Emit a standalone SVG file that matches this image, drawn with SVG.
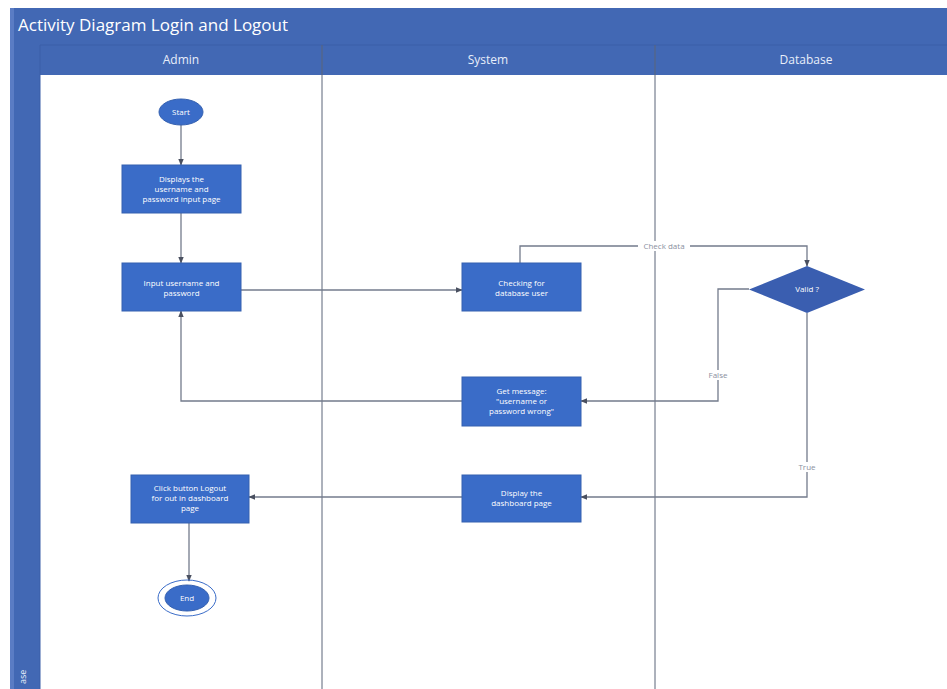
<svg xmlns="http://www.w3.org/2000/svg" width="947" height="689" viewBox="0 0 947 689">
  <style>
    .frame { fill: #4268b4; }
    .lane { fill: #ffffff; }
    .divider { stroke: #5a6478; stroke-width: 1; fill: none; }
    .title { font-family: "Open Sans", "Liberation Sans", sans-serif; font-size: 17px; fill: #ffffff; }
    .head { font-family: "Open Sans", "Liberation Sans", sans-serif; font-size: 12px; fill: #e8eefa; text-anchor: middle; }
    .box { fill: #3a6cc8; stroke: #3460b0; stroke-width: 1; }
    .dia { fill: #3a5eb0; }
    .txt { font-family: "Open Sans", "Liberation Sans", sans-serif; font-size: 8px; fill: #ffffff; text-anchor: middle; }
    .edge { stroke: #737b8c; stroke-width: 1.3; fill: none; }
    .lbl { font-family: "Open Sans", "Liberation Sans", sans-serif; font-size: 8px; fill: #8a90a0; text-anchor: middle; }
    .lblbg { fill: #ffffff; }
  </style>
  <defs>
    <marker id="arrow" viewBox="0 0 10 10" refX="9" refY="5" markerWidth="7" markerHeight="7" orient="auto-start-reverse" markerUnits="userSpaceOnUse">
      <path d="M0,1 L10,5 L0,9 z" fill="#4a5060"/>
    </marker>
  </defs>

  <rect width="947" height="689" fill="#ffffff"/>

  <!-- pool frame, title bar and lane headers -->
  <g id="pool">
    <rect class="frame" x="10" y="8" width="937" height="681"/>
    <rect x="10" y="8" width="4" height="681" fill="#5a7cc4"/>
    <rect class="lane" x="40" y="75" width="907" height="614"/>
    <line x1="40" y1="45" x2="947" y2="45" stroke="#3a5ea8" stroke-width="1"/>
    <line x1="40" y1="45" x2="40" y2="689" stroke="#3a5ea8" stroke-width="1"/>
    <text class="title" x="18" y="31">Activity Diagram Login and Logout</text>
    <text class="head" x="181" y="64">Admin</text>
    <text class="head" x="488" y="64">System</text>
    <text class="head" x="806" y="64">Database</text>
    <line class="divider" x1="322" y1="45" x2="322" y2="689"/>
    <line class="divider" x1="655" y1="45" x2="655" y2="689"/>
    <text x="26" y="684" transform="rotate(-90 26 684)" font-family="Open Sans, Liberation Sans, sans-serif" font-size="9" fill="#e8eefa">ase</text>
  </g>

  <!-- connectors -->
  <g id="connectors">
    <path class="edge" d="M181,125 L181,165" marker-end="url(#arrow)"/>
    <path class="edge" d="M181,213 L181,263" marker-end="url(#arrow)"/>
    <path class="edge" d="M241,290 L462,290" marker-end="url(#arrow)"/>
    <path class="edge" d="M520,263 L520,246 L807,246 L807,266" marker-end="url(#arrow)"/>
    <path class="edge" d="M749,289 L718,289 L718,401 L581,401" marker-end="url(#arrow)"/>
    <path class="edge" d="M462,401 L181,401 L181,311" marker-end="url(#arrow)"/>
    <path class="edge" d="M807,313 L807,497 L581,497" marker-end="url(#arrow)"/>
    <path class="edge" d="M462,497 L249,497" marker-end="url(#arrow)"/>
    <path class="edge" d="M189,523 L189,581" marker-end="url(#arrow)"/>
    <rect class="lblbg" x="638" y="241" width="52" height="10"/>
    <text class="lbl" x="664" y="249">Check data</text>
    <rect class="lblbg" x="704" y="370" width="28" height="10"/>
    <text class="lbl" x="718" y="378">False</text>
    <rect class="lblbg" x="795" y="462" width="24" height="10"/>
    <text class="lbl" x="807" y="470">True</text>
  </g>

  <g id="start">
    <ellipse class="box" cx="181" cy="112" rx="22" ry="13"/>
    <text class="txt" x="181" y="115">Start</text>
  </g>

  <g id="show-login-page">
    <rect class="box" x="122" y="165" width="119" height="48"/>
    <text class="txt" x="181.5" y="182">Displays the</text>
    <text class="txt" x="181.5" y="192">username and</text>
    <text class="txt" x="181.5" y="202">password input page</text>
  </g>

  <g id="input-credentials">
    <rect class="box" x="122" y="263" width="119" height="48"/>
    <text class="txt" x="181.5" y="286">Input username and</text>
    <text class="txt" x="181.5" y="296">password</text>
  </g>

  <g id="check-user">
    <rect class="box" x="462" y="263" width="119" height="48"/>
    <text class="txt" x="521.5" y="286">Checking for</text>
    <text class="txt" x="521.5" y="296">database user</text>
  </g>

  <g id="valid">
    <polygon class="dia" points="807,266 865,289.5 807,313 749,289.5"/>
    <text class="txt" x="807" y="292">Valid ?</text>
  </g>

  <g id="error-message">
    <rect class="box" x="462" y="377" width="119" height="49"/>
    <text class="txt" x="521.5" y="394">Get message:</text>
    <text class="txt" x="521.5" y="404">"username or</text>
    <text class="txt" x="521.5" y="414">password wrong"</text>
  </g>

  <g id="dashboard">
    <rect class="box" x="462" y="475" width="119" height="47"/>
    <text class="txt" x="521.5" y="496">Display the</text>
    <text class="txt" x="521.5" y="506">dashboard page</text>
  </g>

  <g id="logout">
    <rect class="box" x="131" y="475" width="118" height="48"/>
    <text class="txt" x="190" y="491">Click button Logout</text>
    <text class="txt" x="190" y="501">for out in dashboard</text>
    <text class="txt" x="190" y="511">page</text>
  </g>

  <g id="end">
    <ellipse cx="187" cy="598" rx="29" ry="18" fill="none" stroke="#3a6cc8" stroke-width="1"/>
    <ellipse class="box" cx="187" cy="598" rx="22" ry="13"/>
    <text class="txt" x="187" y="601">End</text>
  </g>
</svg>
